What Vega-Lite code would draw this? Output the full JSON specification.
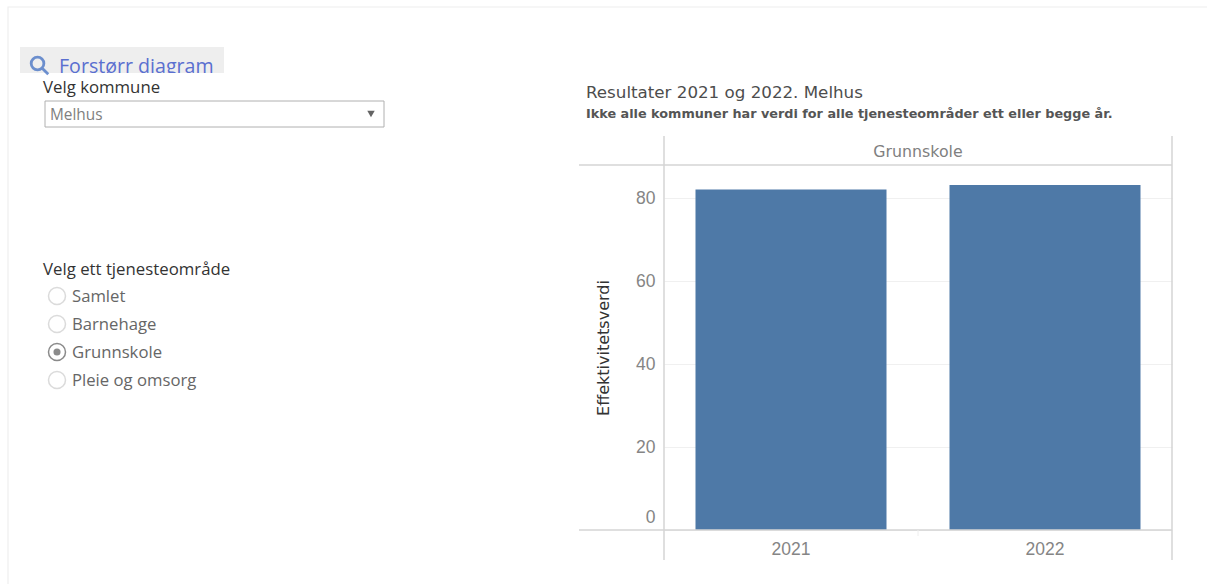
{
"$schema":"https://vega.github.io/schema/vega-lite/v6.json",
"autosize":{"type":"none"},
"padding":{"left":664,"top":165,"right":35,"bottom":54},
"width":508,"height":365,
"background":"white",
"config":{"view":{"stroke":null}},
"datasets":{
"resultater":[{"ar":"2021","verdi":82.1,"omrade":"Grunnskole"},{"ar":"2022","verdi":83.2,"omrade":"Grunnskole"}],
"valg":[{"tjeneste":"Samlet","valgt":"nei"},{"tjeneste":"Barnehage","valgt":"nei"},{"tjeneste":"Grunnskole","valgt":"ja"},{"tjeneste":"Pleie og omsorg","valgt":"nei"}],
"en":[{"rad":1}]
},
"resolve":{"scale":{"x":"independent","y":"independent","color":"independent"},"axis":{"x":"independent","y":"independent"}},
"layer":[
{"data":{"name":"en"},"mark":{"type":"rect","fillOpacity":0,"stroke":"#eeeeee","strokeWidth":1.2},
"encoding":{"x":{"datum":0,"type":"quantitative","axis":null,"scale":{"domain":[0,1],"range":[-656,545],"nice":false,"zero":false}},"x2":{"datum":1},
"y":{"datum":0,"type":"quantitative","axis":null,"scale":{"domain":[0,1],"range":[-158,421],"nice":false,"zero":false}},"y2":{"datum":1}}},
{"data":{"name":"resultater"},"mark":{"type":"bar","color":"#4e79a7"},
"encoding":{
"x":{"field":"ar","type":"nominal","scale":{"paddingInner":0.248,"paddingOuter":0.124},
"axis":{"orient":"bottom","title":null,"labelAngle":0,"ticks":false,"domain":false,"labelPadding":10,"labelFontSize":17.5,"labelFont":"Liberation Sans","labelColor":"#858585"}},
"y":{"field":"verdi","type":"quantitative","scale":{"domain":[0,88],"nice":false},
"axis":{"orient":"left","title":"Effektivitetsverdi","titleFont":"DejaVu Sans","titleFontSize":16,"titleFontWeight":"normal","titleColor":"#333333","titlePadding":24,"values":[0,20,40,60,80],"ticks":false,"domain":false,"labelPadding":9,"labelFontSize":17.5,"labelFont":"Liberation Sans","labelColor":"#858585","labelFlush":1,"labelFlushOffset":-4,"grid":true,"gridColor":"#f0f0f0","gridWidth":1.2}}}},
{"data":{"name":"en"},"mark":{"type":"rule","color":"#d4d4d4","strokeWidth":1.5},
"encoding":{"x":{"datum":0,"type":"quantitative","axis":null,"scale":{"domain":[0,1],"range":[-85,508],"nice":false,"zero":false}},"x2":{"datum":1},
"y":{"datum":0,"type":"quantitative","axis":null,"scale":{"domain":[0,1],"range":[0,365],"nice":false,"zero":false}}}},
{"data":{"name":"en"},"mark":{"type":"rule","color":"#d4d4d4","strokeWidth":1.5},
"encoding":{"x":{"datum":0,"type":"quantitative","axis":null,"scale":{"domain":[0,1],"range":[-85,508],"nice":false,"zero":false}},"x2":{"datum":1},
"y":{"datum":1,"type":"quantitative","axis":null,"scale":{"domain":[0,1],"range":[0,365],"nice":false,"zero":false}}}},
{"data":{"name":"en"},"mark":{"type":"rule","color":"#d4d4d4","strokeWidth":1.5},
"encoding":{"x":{"datum":0,"type":"quantitative","axis":null,"scale":{"domain":[0,1],"range":[0,508],"nice":false,"zero":false}},
"y":{"datum":0,"type":"quantitative","axis":null,"scale":{"domain":[0,1],"range":[-29,395],"nice":false,"zero":false}},"y2":{"datum":1}}},
{"data":{"name":"en"},"mark":{"type":"rule","color":"#d4d4d4","strokeWidth":1.5},
"encoding":{"x":{"datum":1,"type":"quantitative","axis":null,"scale":{"domain":[0,1],"range":[0,508],"nice":false,"zero":false}},
"y":{"datum":0,"type":"quantitative","axis":null,"scale":{"domain":[0,1],"range":[-29,395],"nice":false,"zero":false}},"y2":{"datum":1}}},
{"data":{"name":"en"},"mark":{"type":"rule","color":"#eeeeee","strokeWidth":1},
"encoding":{"x":{"datum":0.5,"type":"quantitative","axis":null,"scale":{"domain":[0,1],"range":[0,508],"nice":false,"zero":false}},
"y":{"datum":0,"type":"quantitative","axis":null,"scale":{"domain":[0,1],"range":[365,371],"nice":false,"zero":false}},"y2":{"datum":1}}},
{"data":{"name":"resultater"},"transform":[{"aggregate":[{"op":"count","as":"n"}],"groupby":["omrade"]}],"mark":{"type":"text","font":"DejaVu Sans","fontSize":15.8,"color":"#808080"},
"encoding":{"text":{"field":"omrade"},"y":{"field":"omrade","type":"nominal","axis":null,"scale":{"type":"point","range":[-13.5,-13.5]}}}},
{"data":{"values":[{"tekst":"Resultater 2021 og 2022. Melhus"}]},"mark":{"type":"text","align":"left","font":"DejaVu Sans","fontSize":16.7,"color":"#4d4d4d"},
"encoding":{"text":{"field":"tekst"},"x":{"datum":0,"type":"quantitative","axis":null,"scale":{"domain":[0,1],"range":[-78,-77],"nice":false,"zero":false}},"y":{"field":"tekst","type":"nominal","axis":null,"scale":{"type":"point","range":[-72,-72]}}}},
{"data":{"values":[{"tekst":"Ikke alle kommuner har verdi for alle tjenesteområder ett eller begge år."}]},"mark":{"type":"text","align":"left","font":"DejaVu Sans","fontSize":12.8,"fontWeight":"bold","color":"#555555"},
"encoding":{"text":{"field":"tekst"},"x":{"datum":0,"type":"quantitative","axis":null,"scale":{"domain":[0,1],"range":[-78,-77],"nice":false,"zero":false}},"y":{"field":"tekst","type":"nominal","axis":null,"scale":{"type":"point","range":[-51,-51]}}}},
{"data":{"name":"en"},"mark":{"type":"rect","fill":"#eeeeee"},
"encoding":{"x":{"datum":0,"type":"quantitative","axis":null,"scale":{"domain":[0,1],"range":[-644,-440],"nice":false,"zero":false}},"x2":{"datum":1},
"y":{"datum":0,"type":"quantitative","axis":null,"scale":{"domain":[0,1],"range":[-118,-92],"nice":false,"zero":false}},"y2":{"datum":1}}},
{"data":{"values":[{"tekst":"Forstørr diagram"}]},"mark":{"type":"text","align":"left","font":"Open Sans","fontSize":19.6,"color":"#5a6fd0"},
"encoding":{"text":{"field":"tekst"},"x":{"datum":0,"type":"quantitative","axis":null,"scale":{"domain":[0,1],"range":[-605,-604],"nice":false,"zero":false}},"y":{"field":"tekst","type":"nominal","axis":null,"scale":{"type":"point","range":[-98,-98]}}}},
{"data":{"name":"en"},"mark":{"type":"rect","fill":"white"},
"encoding":{"x":{"datum":0,"type":"quantitative","axis":null,"scale":{"domain":[0,1],"range":[-644,-440],"nice":false,"zero":false}},"x2":{"datum":1},
"y":{"datum":0,"type":"quantitative","axis":null,"scale":{"domain":[0,1],"range":[-92,-84],"nice":false,"zero":false}},"y2":{"datum":1}}},
{"data":{"name":"en"},"mark":{"type":"point","shape":"M0.5 -0.15 A0.65 0.65 0 1 0 -0.8 -0.15 A0.65 0.65 0 1 0 0.5 -0.15 M0.3 0.3 L0.95 0.95","filled":false,"stroke":"#3566c0","strokeWidth":2.8,"size":380},
"encoding":{"x":{"datum":0,"type":"quantitative","axis":null,"scale":{"domain":[0,1],"range":[-625,-624],"nice":false,"zero":false}},
"y":{"datum":0,"type":"quantitative","axis":null,"scale":{"domain":[0,1],"range":[-100,-99],"nice":false,"zero":false}}}},
{"data":{"values":[{"tekst":"Velg kommune"},{"tekst":"Velg ett tjenesteområde"}]},"mark":{"type":"text","align":"left","font":"Open Sans","fontSize":16.8,"color":"#333333"},
"encoding":{"text":{"field":"tekst"},"x":{"datum":0,"type":"quantitative","axis":null,"scale":{"domain":[0,1],"range":[-621,-620],"nice":false,"zero":false}},"y":{"field":"tekst","type":"nominal","sort":null,"axis":null,"scale":{"type":"point","padding":0,"range":[-77,105]}}}},
{"data":{"name":"en"},"mark":{"type":"rect","fill":"white","stroke":"#b0b0b0","strokeWidth":1},
"encoding":{"x":{"datum":0,"type":"quantitative","axis":null,"scale":{"domain":[0,1],"range":[-619,-280],"nice":false,"zero":false}},"x2":{"datum":1},
"y":{"datum":0,"type":"quantitative","axis":null,"scale":{"domain":[0,1],"range":[-64,-38],"nice":false,"zero":false}},"y2":{"datum":1}}},
{"data":{"values":[{"kommune":"Melhus"}]},"mark":{"type":"text","align":"left","font":"Open Sans","fontSize":15.4,"color":"#808080"},
"encoding":{"text":{"field":"kommune"},"x":{"datum":0,"type":"quantitative","axis":null,"scale":{"domain":[0,1],"range":[-614,-613],"nice":false,"zero":false}},"y":{"field":"kommune","type":"nominal","axis":null,"scale":{"type":"point","range":[-50.5,-50.5]}}}},
{"data":{"name":"en"},"mark":{"type":"point","shape":"triangle-down","filled":true,"color":"#222222","size":55},
"encoding":{"x":{"datum":0,"type":"quantitative","axis":null,"scale":{"domain":[0,1],"range":[-293,-292],"nice":false,"zero":false}},
"y":{"datum":0,"type":"quantitative","axis":null,"scale":{"domain":[0,1],"range":[-51,-50],"nice":false,"zero":false}}}},
{"data":{"name":"valg"},"mark":{"type":"point","shape":"circle","filled":false,"strokeWidth":1.5,"size":289},
"encoding":{"color":{"field":"valgt","type":"nominal","legend":null,"scale":{"domain":["ja","nei"],"range":["#5a5a5a","#cccccc"]}},
"x":{"datum":0,"type":"quantitative","axis":null,"scale":{"domain":[0,1],"range":[-607,-606],"nice":false,"zero":false}},
"y":{"field":"tjeneste","type":"nominal","sort":null,"axis":null,"scale":{"type":"point","padding":0,"range":[131,215]}}}},
{"data":{"name":"valg"},"transform":[{"filter":"datum.valgt === 'ja'"}],"mark":{"type":"point","shape":"circle","filled":true,"color":"#5a5a5a","size":50},
"encoding":{"x":{"datum":0,"type":"quantitative","axis":null,"scale":{"domain":[0,1],"range":[-607,-606],"nice":false,"zero":false}},
"y":{"field":"tjeneste","type":"nominal","sort":null,"axis":null,"scale":{"type":"point","domain":["Samlet","Barnehage","Grunnskole","Pleie og omsorg"],"padding":0,"range":[131,215]}}}},
{"data":{"name":"valg"},"mark":{"type":"text","align":"left","font":"Open Sans","fontSize":16.7,"color":"#666666"},
"encoding":{"text":{"field":"tjeneste"},"x":{"datum":0,"type":"quantitative","axis":null,"scale":{"domain":[0,1],"range":[-592,-591],"nice":false,"zero":false}},
"y":{"field":"tjeneste","type":"nominal","sort":null,"axis":null,"scale":{"type":"point","padding":0,"range":[132,216]}}}}
]
}
